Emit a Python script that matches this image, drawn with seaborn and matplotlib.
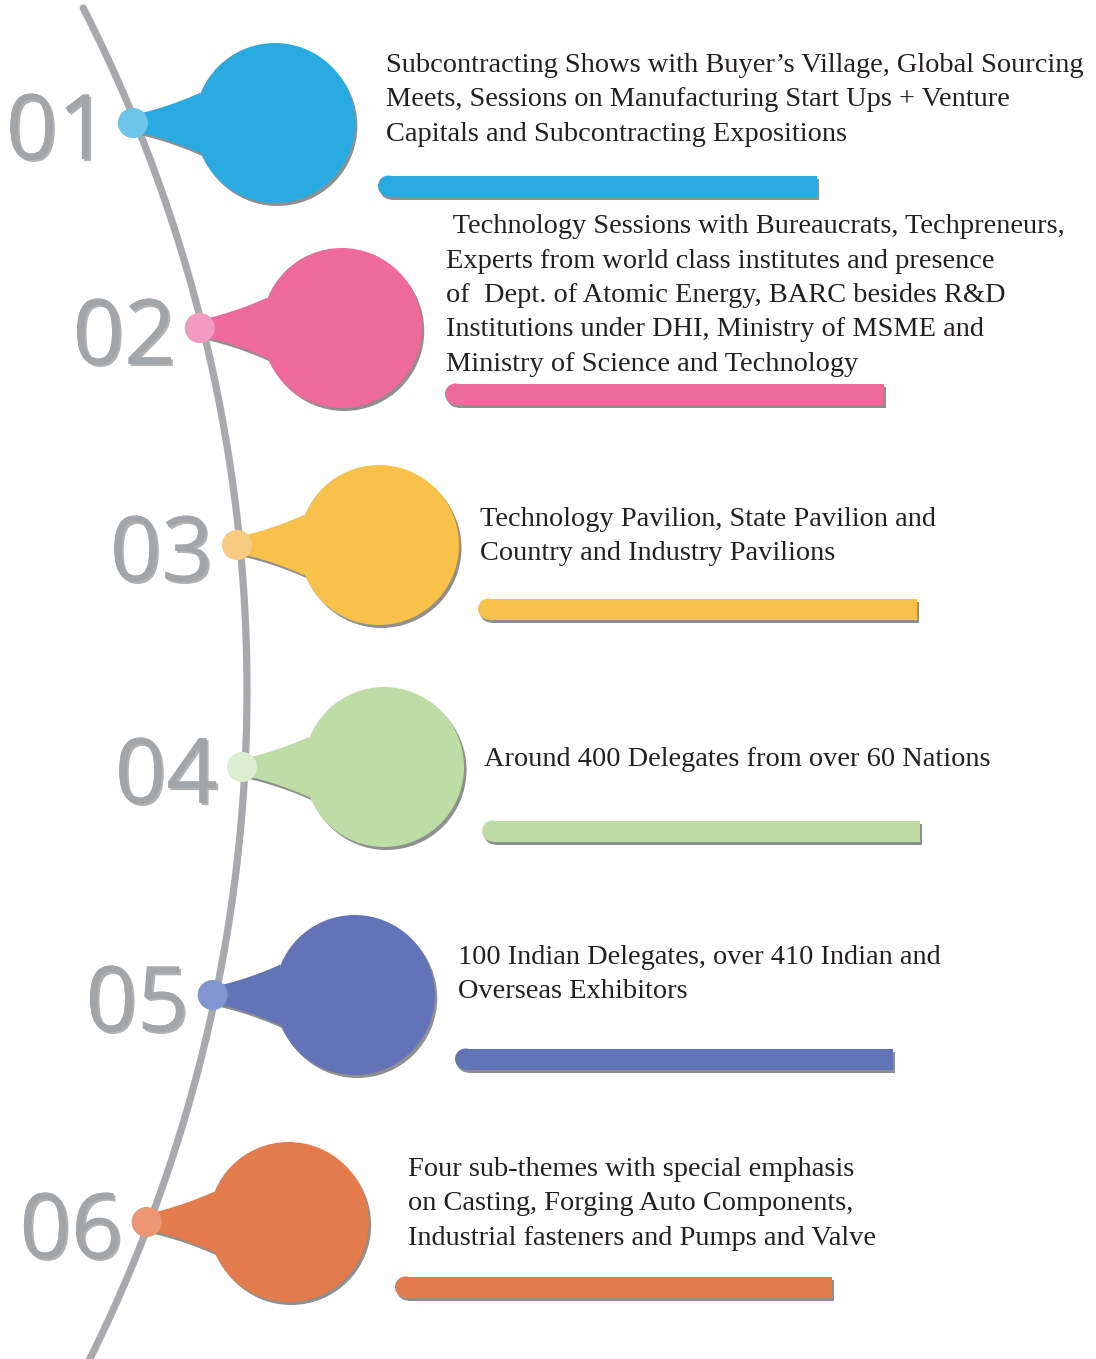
import numpy as np
import matplotlib.pyplot as plt
import matplotlib.patheffects as pe
from matplotlib.patches import Circle, Polygon
import seaborn as sns

# =========================
# Data
# =========================
numbers = ["01", "02", "03", "04", "05", "06"]
colors = ["#29ABE2", "#EE6A9B", "#F8C24A", "#BEDCA6", "#6273B8", "#E47B4C"]
dot_colors = ["#6DC5EC", "#F39AC0", "#F6CA80", "#DDEDCF", "#8195D2", "#EC9673"]

text_lines = [
    ["Subcontracting Shows with Buyer\u2019s Village, Global Sourcing",
     "Meets, Sessions on Manufacturing Start Ups + Venture",
     "Capitals and Subcontracting Expositions"],
    [" Technology Sessions with Bureaucrats, Techpreneurs,",
     "Experts from world class institutes and presence",
     "of  Dept. of Atomic Energy, BARC besides R&D",
     "Institutions under DHI, Ministry of MSME and",
     "Ministry of Science and Technology"],
    ["Technology Pavilion, State Pavilion and",
     "Country and Industry Pavilions"],
    ["Around 400 Delegates from over 60 Nations"],
    ["100 Indian Delegates, over 410 Indian and",
     "Overseas Exhibitors"],
    ["Four sub-themes with special emphasis",
     "on Casting, Forging Auto Components,",
     "Industrial fasteners and Pumps and Valve"],
]

# layout (pixel units, y downwards)
dot_y = [123, 328, 545, 767, 995, 1222]
text_x = [386, 446, 480, 484, 458, 408]
text_base = [72, 233, 526, 766, 964, 1176]
bar_x = [378, 445, 478, 482, 455, 395]
bar_len = [439, 439, 439, 438, 438, 437]
bar_y = [186, 394, 609, 831, 1059, 1287]

W, H = 1096, 1359
ARC_CX, ARC_CY, ARC_R = -1255, 690, 1502
BUBBLE_R = 80
BUBBLE_DX = 142
BAR_H = 21
LINE_STEP = 34.5


def arc_x(y):
    y = np.asarray(y, dtype=float)
    return ARC_CX + np.sqrt(ARC_R ** 2 - (y - ARC_CY) ** 2)


def tail_shape(dx, dy, cx, cy, r):
    # speech-bubble tail, edges only a little concave
    t = np.linspace(0, 1, 20)
    p0 = np.array([dx, -8.0])
    p2 = np.array([cx - 0.93 * r, -0.38 * r])
    p1 = np.array([dx + 0.5 * (p2[0] - dx), -8.0 + 0.32 * (p2[1] + 8.0)])
    top = ((1 - t) ** 2)[:, None] * p0 + (2 * (1 - t) * t)[:, None] * p1 + (t ** 2)[:, None] * p2
    bottom = top[::-1] * [1, -1]
    pts = np.vstack([top, bottom])
    pts[:, 1] += dy
    return pts


sns.set_style("white")

fig = plt.figure(figsize=(W / 100, H / 100), dpi=100)
ax = fig.add_axes([0, 0, 1, 1])

# =========================
# Timeline arc
# =========================
ys = np.linspace(8, H + 20, 400)
sns.lineplot(x=arc_x(ys), y=ys, sort=False, estimator=None, color="#A7A9AC",
             lw=5.2, solid_capstyle="round", ax=ax, zorder=1)

dot_x = arc_x(dot_y) - 3
shadow = "#8f8f8f"

# =========================
# Bubbles
# =========================
for i, (dx, dy) in enumerate(zip(dot_x, dot_y)):
    cx, cy = dx + BUBBLE_DX, dy
    r = BUBBLE_R
    tail = tail_shape(dx, dy, cx, cy, r)
    for off, col, z in [((2.5, 3), shadow, 2), ((0, 0), colors[i], 3)]:
        ax.add_patch(Circle((cx + off[0], cy + off[1]), r, color=col, lw=0, zorder=z))
        ax.add_patch(Polygon(tail + np.array(off), closed=True, color=col,
                             lw=0, zorder=z))

    # big number
    ax.text(dx - 24, dy + 36, numbers[i], ha="right", va="baseline",
            fontsize=65, family="Open Sans", color="#A2A6A9", zorder=3,
            path_effects=[pe.withSimplePatchShadow(offset=(1.5, -1.5),
                                                   shadow_rgbFace="#555555", alpha=0.45),
                          pe.Normal()])

    # description text
    for k, line in enumerate(text_lines[i]):
        ax.text(text_x[i], text_base[i] + k * LINE_STEP, line, ha="left",
                va="baseline", fontsize=20.4, family="Liberation Serif",
                color="#231F20", zorder=5)

# dots on the arc
sns.scatterplot(x=dot_x, y=dot_y, hue=numbers, palette=dot_colors, s=470,
                linewidth=0, legend=False, ax=ax, zorder=4)

# =========================
# Underline bars
# =========================
bx = np.array(bar_x, dtype=float)
bl = np.array(bar_len, dtype=float)
by = np.array(bar_y, dtype=float)
ax.barh(by + 3, bl - BAR_H / 2, left=bx + BAR_H / 2 + 2, height=BAR_H,
        color=shadow, lw=0, zorder=2)
ax.barh(by, bl - BAR_H / 2, left=bx + BAR_H / 2, height=BAR_H,
        color=colors, lw=0, zorder=3)
for i in range(len(numbers)):
    ax.add_patch(Circle((bx[i] + BAR_H / 2 + 2, by[i] + 3), BAR_H / 2,
                        color=shadow, lw=0, zorder=2))
    ax.add_patch(Circle((bx[i] + BAR_H / 2, by[i]), BAR_H / 2,
                        color=colors[i], lw=0, zorder=3))

ax.set_xlim(0, W)
ax.set_ylim(H, 0)
ax.set_aspect("auto")
ax.axis("off")

fig.savefig("out.png", dpi=100, facecolor="white")
